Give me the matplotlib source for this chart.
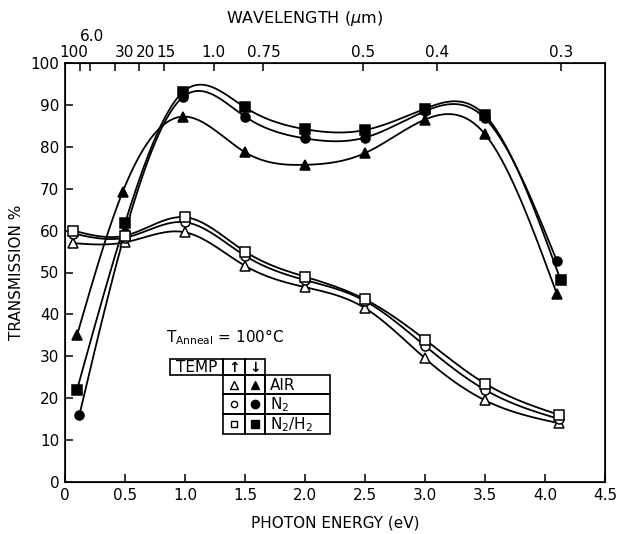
import numpy as np
import matplotlib
matplotlib.use("Agg")
import matplotlib.pyplot as plt
from matplotlib.patches import Rectangle
from matplotlib.transforms import ScaledTranslation

# ---------------- data ----------------
# filled symbols (temperature decreasing)
air_f_E = [0.10, 0.48, 0.98, 1.50, 2.00, 2.50, 3.00, 3.50, 4.10]
air_f_T = [35.0, 69.2, 87.2, 78.7, 75.7, 78.5, 86.5, 83.0, 44.8]
n2_f_E = [0.12, 0.50, 0.98, 1.50, 2.00, 2.50, 3.00, 3.50, 4.10]
n2_f_T = [16.0, 59.5, 91.8, 87.2, 82.0, 82.2, 88.5, 86.8, 52.7]
n2h2_f_E = [0.10, 0.50, 0.98, 1.50, 2.00, 2.50, 3.00, 3.50, 4.13]
n2h2_f_T = [22.0, 61.8, 93.0, 89.4, 84.2, 84.0, 89.1, 87.5, 48.2]

# open symbols (temperature increasing)
air_o_E = [0.07, 0.50, 1.00, 1.50, 2.00, 2.50, 3.00, 3.50, 4.12]
air_o_T = [57.0, 57.2, 59.6, 51.6, 46.5, 41.5, 29.5, 19.5, 14.0]
n2_o_E = [0.07, 0.50, 1.00, 1.50, 2.00, 2.50, 3.00, 3.50, 4.12]
n2_o_T = [59.3, 58.3, 62.0, 54.0, 48.2, 43.2, 32.5, 22.0, 15.0]
n2h2_o_E = [0.07, 0.50, 1.00, 1.50, 2.00, 2.50, 3.00, 3.50, 4.12]
n2h2_o_T = [60.0, 58.8, 63.2, 55.0, 49.0, 43.6, 34.0, 23.5, 16.0]

x_ticks = [0, 0.5, 1.0, 1.5, 2.0, 2.5, 3.0, 3.5, 4.0, 4.5]
x_labels = ["0", "0.5", "1.0", "1.5", "2.0", "2.5", "3.0", "3.5", "4.0", "4.5"]
y_ticks = [0, 10, 20, 30, 40, 50, 60, 70, 80, 90, 100]

wl_values = [10.0, 6.0, 3.0, 2.0, 1.5, 1.0, 0.75, 0.5, 0.4, 0.3]
wl_labels = ["100", "6.0", "30", "20", "15", "1.0", "0.75", "0.5", "0.4", "0.3"]
wl_label_dx = [-6, 2, 10, 6, 2, 0, 0, 0, 0, 0]   # px nudges of label placement
wl_label_dy = [0, 16, 0, 0, 0, 0, 0, 0, 0, 0]


def natural_spline(x, y, xs):
    x = np.asarray(x, float)
    y = np.asarray(y, float)
    n = len(x)
    h = np.diff(x)
    A = np.zeros((n, n))
    b = np.zeros(n)
    A[0, 0] = A[-1, -1] = 1.0
    for i in range(1, n - 1):
        A[i, i - 1] = h[i - 1]
        A[i, i] = 2 * (h[i - 1] + h[i])
        A[i, i + 1] = h[i]
        b[i] = 3 * ((y[i + 1] - y[i]) / h[i] - (y[i] - y[i - 1]) / h[i - 1])
    c = np.linalg.solve(A, b)
    bb = (y[1:] - y[:-1]) / h - h * (2 * c[:-1] + c[1:]) / 3
    d = (c[1:] - c[:-1]) / (3 * h)
    idx = np.clip(np.searchsorted(x, xs) - 1, 0, n - 2)
    dx = xs - x[idx]
    return y[idx] + bb[idx] * dx + c[idx] * dx ** 2 + d[idx] * dx ** 3


W, H = 617, 534
fig = plt.figure(figsize=(W / 100, H / 100), dpi=100)
plt.rcParams["font.family"] = ["DejaVu Sans"]

L, R, T, B = 65, 605, 63, 482
ax = fig.add_axes([L / W, 1 - B / H, (R - L) / W, (B - T) / H])

series = [
    (air_f_E, air_f_T, "^", "black"),
    (n2_f_E, n2_f_T, "o", "black"),
    (n2h2_f_E, n2h2_f_T, "s", "black"),
    (air_o_E, air_o_T, "^", "white"),
    (n2_o_E, n2_o_T, "o", "white"),
    (n2h2_o_E, n2h2_o_T, "s", "white"),
]
for E, Tr, mk, fc in series:
    xs = np.linspace(E[0], E[-1], 400)
    ax.plot(xs, natural_spline(E, Tr, xs), color="black", lw=1.3, zorder=2)
    ax.plot(E, Tr, linestyle="none", marker=mk, markersize=6.5,
            markerfacecolor=fc, markeredgecolor="black", markeredgewidth=1.1, zorder=3)

ax.set_xlim(0, 4.5)
ax.set_ylim(0, 100)
ax.set_xticks(x_ticks)
ax.set_xticklabels(x_labels)
ax.set_yticks(y_ticks)
ax.tick_params(direction="in", length=6, width=1.1, labelsize=11, top=False, right=False, pad=4)
for s in ax.spines.values():
    s.set_linewidth(1.2)
ax.set_xlabel("PHOTON ENERGY (eV)", fontsize=11, labelpad=9)
ax.set_ylabel("TRANSMISSION %", fontsize=11, labelpad=5)

ax2 = ax.twiny()
ax2.set_xlim(0, 4.5)
ax2.set_xticks([1.24 / w for w in wl_values])
ax2.set_xticklabels(wl_labels)
ax2.tick_params(direction="in", length=6, width=1.1, labelsize=11, pad=2)
for lab, dx, dy in zip(ax2.get_xticklabels(), wl_label_dx, wl_label_dy):
    lab.set_transform(lab.get_transform() + ScaledTranslation(dx / 100, dy / 100, fig.dpi_scale_trans))
fig.text(304 / W, 1 - 19 / H, "WAVELENGTH ($\\mu$m)", ha="center", va="center", fontsize=11.5)

# ---------------- legend table (drawn in figure pixel space) ----------------
ov = fig.add_axes([0, 0, 1, 1], zorder=5)
ov.set_xlim(0, W)
ov.set_ylim(H, 0)
ov.axis("off")
ov.patch.set_alpha(0)

lw = 1.2
ov.text(166, 342, "T$_{\\mathrm{Anneal}}$ = 100°C", fontsize=11, ha="left", va="baseline")
ov.add_patch(Rectangle((170, 359), 53, 16, fill=False, lw=lw))
ov.add_patch(Rectangle((223, 359), 22, 16, fill=False, lw=lw))
ov.add_patch(Rectangle((245, 359), 20, 16, fill=False, lw=lw))
ov.text(196.5, 367.5, "TEMP", fontsize=11, ha="center", va="center")
ov.text(234, 367.5, "↑", fontsize=10, ha="center", va="center", fontweight="bold")
ov.text(255, 367.5, "↓", fontsize=10, ha="center", va="center", fontweight="bold")

rows = [("^", "AIR"), ("o", "N$_2$"), ("s", "N$_2$/H$_2$")]
row_top = [375, 394, 414]
row_h = [19, 20, 20]
for (mk, lab), y0, hh in zip(rows, row_top, row_h):
    ov.add_patch(Rectangle((223, y0), 22, hh, fill=False, lw=lw))
    ov.add_patch(Rectangle((245, y0), 20, hh, fill=False, lw=lw))
    ov.add_patch(Rectangle((265, y0), 65, hh, fill=False, lw=lw))
    yc = y0 + hh / 2
    ms = 5.5 if mk == "^" else 4.5
    ov.plot([234], [yc], marker=mk, markersize=ms, markerfacecolor="white",
            markeredgecolor="black", markeredgewidth=1.0)
    ov.plot([255], [yc], marker=mk, markersize=6, markerfacecolor="black",
            markeredgecolor="black")
    ov.text(270, yc + 1, lab, fontsize=11, ha="left", va="center")

fig.savefig("out.png", dpi=100)
